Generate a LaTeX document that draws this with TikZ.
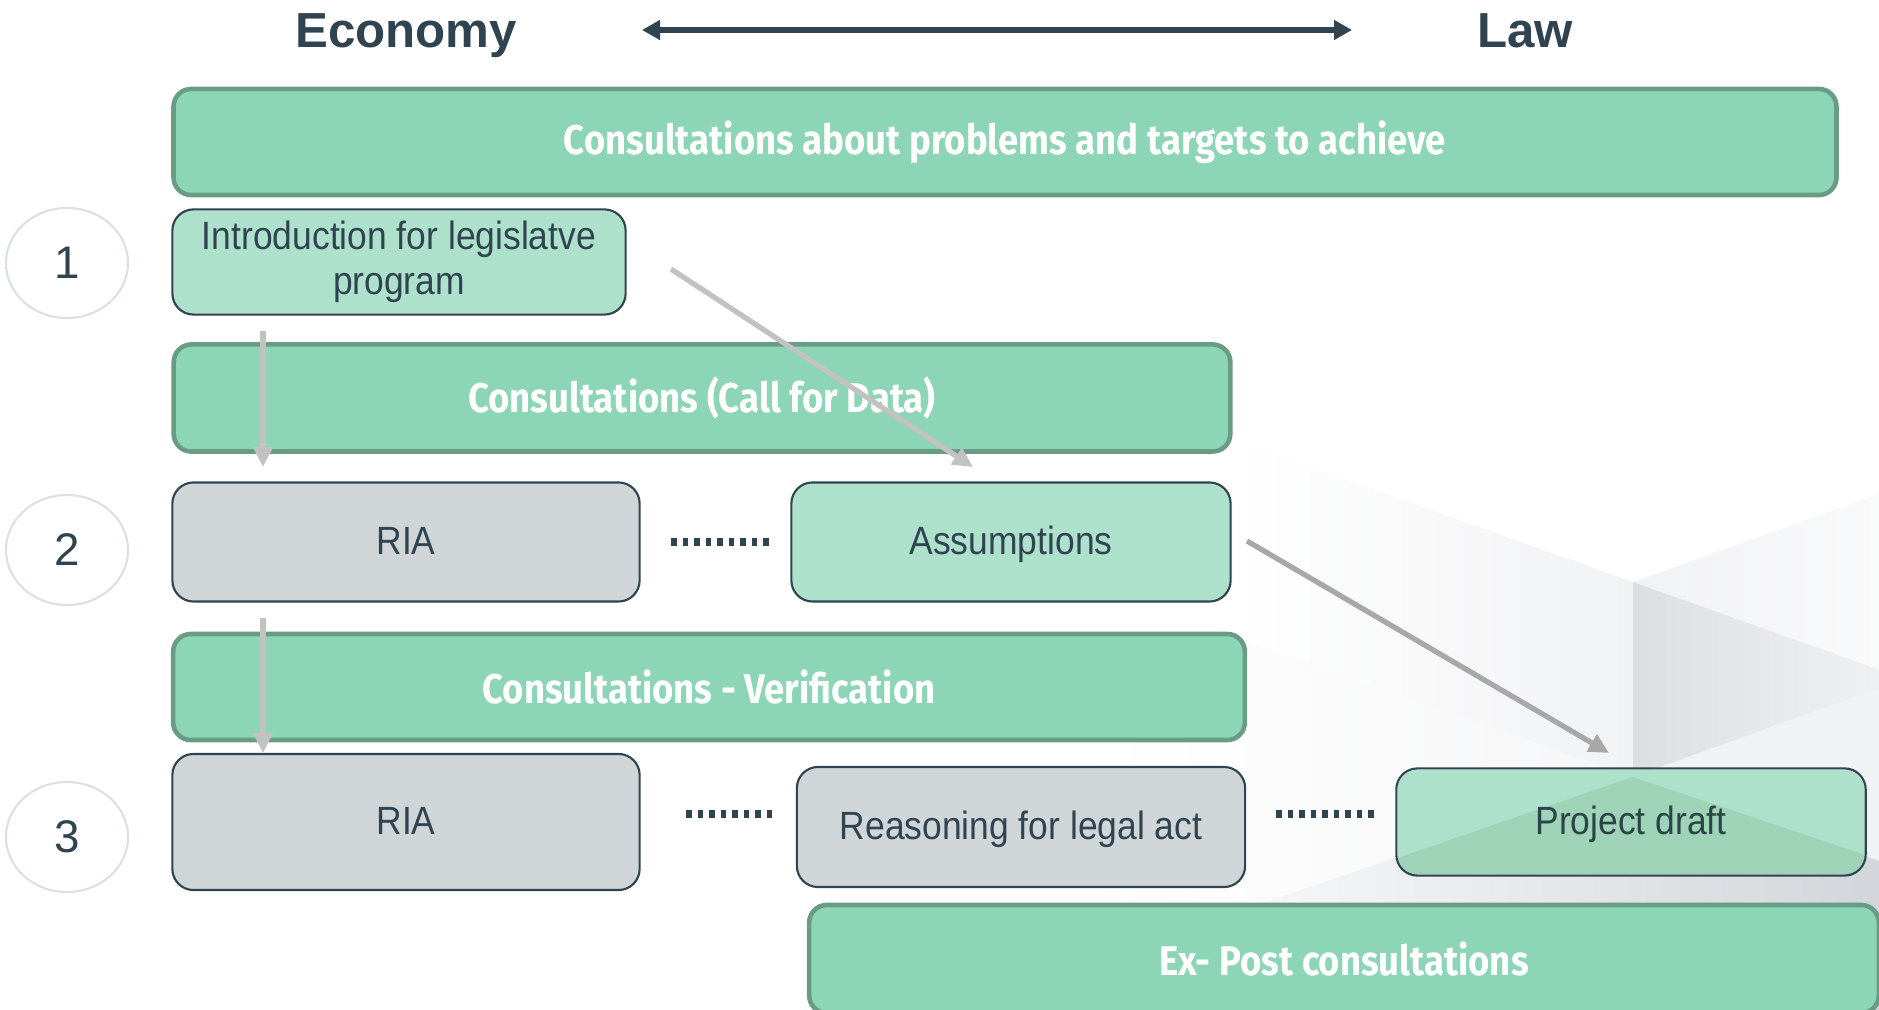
\documentclass[tikz,border=0pt]{standalone}
\usepackage{fontspec}
\setmainfont{Liberation Sans}
\newfontfamily\barfont[FakeStretch=0.88]{Fira Sans}
\newfontfamily\boxfont[FakeStretch=0.9]{Liberation Sans}
\usetikzlibrary{arrows.meta, shapes.geometric, positioning, calc}

\definecolor{barfill}{HTML}{8DD5B7}
\definecolor{barline}{HTML}{699C84}
\definecolor{lightfill}{HTML}{AEE1CB}
\definecolor{grayfill}{HTML}{D0D5D8}
\definecolor{darktext}{HTML}{2F4450}
\definecolor{ringline}{HTML}{DCE0E6}
\definecolor{flowA}{HTML}{C2C2C2}
\definecolor{flowB}{HTML}{A8A8A8}
\definecolor{bgA}{HTML}{F1F2F4}
\definecolor{bgB}{HTML}{DCDFE2}
\definecolor{bgC}{HTML}{D2D6DA}

\tikzset{
  bar/.style={draw=barline, line width=1.3pt, fill=barfill, rounded corners=5pt,
    text=white, font=\barfont\bfseries\fontsize{11.8}{13}\selectfont},
  box/.style={draw=darktext, line width=0.6pt, rounded corners=6pt, text=darktext,
    align=center, font=\boxfont\fontsize{11.2}{12.8}\selectfont},
  oneline/.style={text height=0.7em, text depth=0pt},
  greenbox/.style={box, fill=lightfill},
  graybox/.style={box, fill=grayfill},
  num/.style={ellipse, draw=ringline, line width=0.6pt, minimum width=1.22cm,
    minimum height=1.1cm, text=darktext, font=\fontsize{13}{15}\selectfont},
  side/.style={anchor=base, text=darktext, font=\bfseries\fontsize{14}{16}\selectfont},
  flow/.style={line width=1.5pt, -{Triangle[length=0.2cm,width=0.19cm]}},
  dots/.style={draw=darktext, line width=2.2pt, dash pattern=on 0.055cm off 0.06cm}
}

\begin{document}
\begin{tikzpicture}[x=0.01cm, y=-0.01cm]
\useasboundingbox (0,0) rectangle (1879,1010);
\clip (0,0) rectangle (1879,1010);

% Background cube
\coordinate (V) at (1633,582);
\coordinate (C) at (1633,777);
\shade[left color=white, right color=bgA] (1232,439) -- (V) -- (C) -- (1232,637) -- cycle;
\shade[left color=white, right color=bgA!70] (1232,637) -- (C) -- (1100,958) -- (1100,637) -- cycle;
\shade[left color=bgA, right color=white!60!bgA] (V) -- (1879,494) -- (1879,670) -- cycle;
\shade[left color=bgB, right color=bgA] (V) -- (1905,679) -- (C) -- cycle;
\fill[bgA] (C) -- (1879,688) -- (1879,861) -- cycle;
\shade[left color=white, right color=bgC] (C) -- (1879,861) -- (1879,1010) -- (1100,1010) -- (1100,958) -- cycle;

% Header
\node[side] (economy) at (406,48) {Economy};
\node[side] (law) at (1525,48) {Law};
\coordinate (axisL) at (642,30);
\coordinate (axisR) at (1352,30);
\draw[darktext, line width=1.7pt, {Triangle[length=0.18cm,width=0.19cm]}-{Triangle[length=0.18cm,width=0.19cm]}] (axisL) -- (axisR);

% Consultation bars
\node[bar, minimum width=16.62cm, minimum height=1.06cm] (goals) at (1005,142) {Consultations about problems and targets to achieve};
\node[bar, minimum width=10.56cm, minimum height=1.07cm] (calldata) at (702,398) {Consultations (Call for Data)};
\node[bar, minimum width=10.71cm, minimum height=1.06cm] (verify) at (709,687) {Consultations - Verification};
\node[bar, minimum width=10.69cm, minimum height=1.08cm] (expost) at (1344,959) {Ex- Post consultations};

% Stage numbers
\node[num] (n1) at (67,263) {1};
\node[num] (n2) at (67,550) {2};
\node[num] (n3) at (67,837) {3};

% Stage boxes
\node[greenbox, minimum width=4.53cm, minimum height=1.05cm] (intro) at (399,262) {Introduction for legislatve\\program};
\node[graybox, oneline, minimum width=4.67cm, minimum height=1.19cm] (ria2) at (406,542) {RIA};
\node[greenbox, oneline, minimum width=4.39cm, minimum height=1.19cm] (assume) at (1011,542) {Assumptions};
\node[graybox, oneline, minimum width=4.67cm, minimum height=1.36cm] (ria3) at (406,822) {RIA};
\node[graybox, oneline, minimum width=4.48cm, minimum height=1.20cm] (reason) at (1021,827) {Reasoning for legal act};
\node[greenbox, oneline, draw=none, minimum width=4.67cm, minimum height=1.05cm] (draft) at (1631,822) {Project draft};

% Shadow of the cube on the draft
\begin{scope}
\clip[rounded corners=6pt] (draft.south west) rectangle (draft.north east);
\fill[black!70!green, opacity=0.09] (C) -- (1397,858) -- (1397,880) -- (1866,880) -- (1866,855) -- cycle;
\end{scope}
\draw[darktext, line width=0.6pt, rounded corners=6pt] (draft.south west) rectangle (draft.north east);

% Dotted links
\draw[dots] (671,542) -- (773,542);
\draw[dots] (686,814) -- (776,814);
\draw[dots] (1276,814) -- (1379,814);

% Flow arrows
\coordinate (f1s) at (263,331);
\coordinate (f1e) at (263,467);
\coordinate (f2s) at (263,618);
\coordinate (f2e) at (263,753);
\coordinate (f3s) at (671,269);
\coordinate (f3e) at (973,467);
\coordinate (f4s) at (1247,541);
\coordinate (f4e) at (1609,753);
\draw[flow, flowA] (f1s) -- (f1e);
\draw[flow, flowA] (f2s) -- (f2e);
\draw[flow, flowA] (f3s) -- (f3e);
\draw[flow, flowB] (f4s) -- (f4e);
\end{tikzpicture}
\end{document}
